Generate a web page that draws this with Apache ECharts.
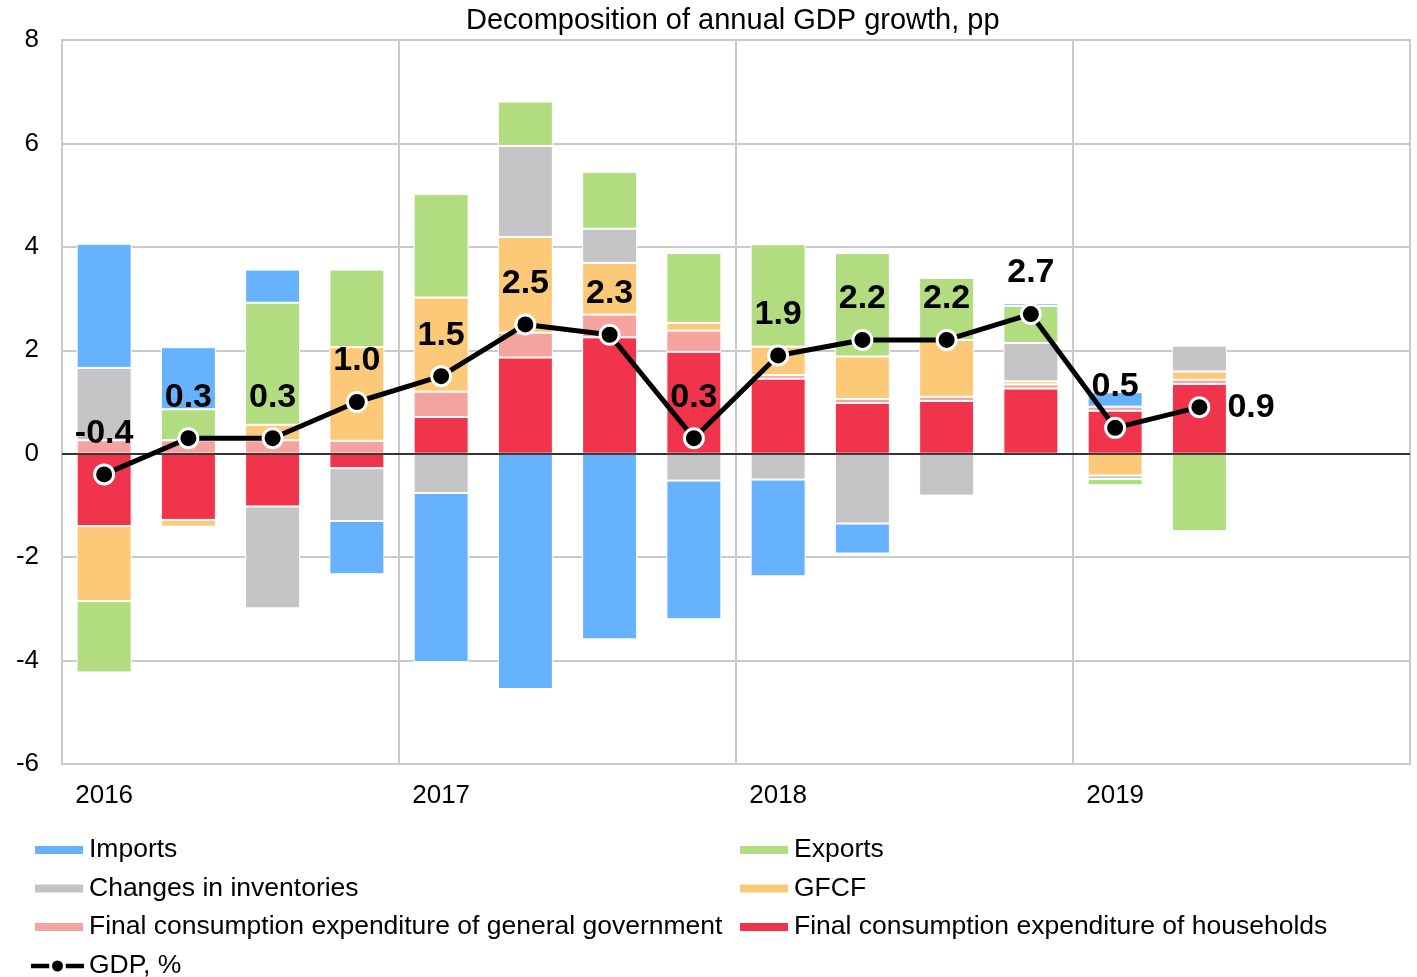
<!DOCTYPE html>
<html>
<head>
<meta charset="utf-8">
<title>Decomposition of annual GDP growth</title>
<script src="https://cdn.jsdelivr.net/npm/echarts@6.0.0/dist/echarts.min.js"></script>
<style>
    html, body { margin: 0; padding: 0; background: #fff; }
    #chart { width: 1417px; height: 977px; }
</style>
</head>
<body>
<div id="chart"></div>
<script>
// quarters on the x axis (only the first quarter of each year gets a label)
const quarters = ['2016 Q1', '2016 Q2', '2016 Q3', '2016 Q4',
                  '2017 Q1', '2017 Q2', '2017 Q3', '2017 Q4',
                  '2018 Q1', '2018 Q2', '2018 Q3', '2018 Q4',
                  '2019 Q1', '2019 Q2', '2019 Q3', '2019 Q4'];
const yearLabels = ['2016', '', '', '', '2017', '', '', '', '2018', '', '', '', '2019', '', '', ''];

// contributions, pp
const households  = [-1.40, -1.28, -1.02, -0.28, 0.71, 1.86, 2.25, 1.97, 1.45, 0.98, 1.02, 1.26, 0.83, 1.35];
const government  = [0.26, 0.26, 0.26, 0.25, 0.49, 0.48, 0.44, 0.41, 0.07, 0.08, 0.08, 0.08, 0.08, 0.08];
const gfcf        = [-1.45, -0.13, 0.30, 1.81, 1.82, 1.85, 1.00, 0.15, 0.55, 0.82, 1.10, 0.06, -0.42, 0.16];
const inventories = [1.40, 0, -1.97, -1.02, -0.76, 1.76, 0.66, -0.52, -0.50, -1.35, -0.81, 0.74, -0.07, 0.50];
const exportsData = [-1.38, 0.60, 2.36, 1.50, 2.00, 0.86, 1.10, 1.35, 1.98, 2.00, 1.20, 0.72, -0.12, -1.50];
const importsData = [2.40, 1.20, 0.64, -1.03, -3.27, -4.55, -3.59, -2.68, -1.87, -0.58, 0, 0.05, 0.28, 0];
const gdp         = [-0.4, 0.3, 0.3, 1.0, 1.5, 2.5, 2.3, 0.3, 1.9, 2.2, 2.2, 2.7, 0.5, 0.9];

const FONT = "'Liberation Sans', Arial, sans-serif";
const GRID_COLOR = '#cacaca';

// legend icon for the GDP line: thick dash, dot, thick dash
const GDP_ICON = 'path://M0,3.5H20V8.5H0Z M23,6A6,6 0 1,0 35,6A6,6 0 1,0 23,6Z M38,3.5H58V8.5H38Z';

// stacked bar series, order = stacking order from zero outwards
function barSeries(name, data, color) {
    return {
        name: name,
        type: 'bar',
        stack: 'total',
        barWidth: 55,
        data: data,
        itemStyle: { color: color, borderColor: '#fff', borderWidth: 1 },
        emphasis: { disabled: true }
    };
}

// one legend column
function legendColumn(left, top, items, extra) {
    return {
        orient: 'vertical',
        left: left, top: top,
        padding: 0,
        itemWidth: 50, itemHeight: 10, itemGap: 10.5,
        textStyle: { fontFamily: FONT, color: '#000', fontSize: 26.5, lineHeight: 28 },
        data: items,
        ...extra
    };
}

const chart = echarts.init(document.getElementById('chart'), null, { renderer: 'canvas' });

const textBase = { fontFamily: FONT, color: '#000' };

chart.setOption({
    animation: false,
    textStyle: { fontFamily: FONT },
    title: {
        text: 'Decomposition of annual GDP growth, pp',
        left: 466,
        top: 6,
        padding: 0,
        textStyle: { ...textBase, fontSize: 29, fontWeight: 'normal' }
    },
    grid: {
        left: 62, right: 7, top: 40, bottom: 213,
        show: true,
        borderColor: GRID_COLOR,
        borderWidth: 2
    },
    legend: [
        legendColumn(33, 836, [
            { name: 'Imports', icon: 'rect' },
            { name: 'Changes in inventories', icon: 'rect' },
            { name: 'Final consumption expenditure of general government', icon: 'rect' }
        ]),
        legendColumn(738, 836, [
            { name: 'Exports', icon: 'rect' },
            { name: 'GFCF', icon: 'rect' },
            { name: 'Final consumption expenditure of households', icon: 'rect' }
        ]),
        legendColumn(31, 952, [
            { name: 'GDP, %', icon: GDP_ICON, itemStyle: { color: '#000', borderWidth: 0 } }
        ], { itemWidth: 53, itemHeight: 11 })
    ],
    xAxis: {
        type: 'category',
        data: quarters,
        boundaryGap: true,
        axisLine: { onZero: false, lineStyle: { color: GRID_COLOR, width: 2 } },
        axisTick: { show: false },
        axisLabel: {
            ...textBase,
            fontSize: 26,
            margin: 19,
            interval: 0,
            formatter: (value, idx) => yearLabels[idx]
        },
        splitLine: {
            show: true,
            interval: (idx) => idx > 0 && idx % 4 === 0,
            lineStyle: { color: GRID_COLOR, width: 2 }
        }
    },
    yAxis: {
        type: 'value',
        min: -6, max: 8, interval: 2,
        axisLine: { show: false },
        axisTick: { show: false },
        axisLabel: { ...textBase, fontSize: 26, margin: 23 },
        splitLine: { lineStyle: { color: GRID_COLOR, width: 2 } }
    },
    series: [
        barSeries('Final consumption expenditure of households', households, '#ef344c'),
        barSeries('Final consumption expenditure of general government', government, '#f5a39e'),
        barSeries('GFCF', gfcf, '#fbc977'),
        barSeries('Changes in inventories', inventories, '#c4c4c6'),
        barSeries('Exports', exportsData, '#b1dd80'),
        barSeries('Imports', importsData, '#67b2fe'),
        {
            name: 'GDP, %',
            type: 'line',
            z: 5,
            data: gdp.map((v, i) => i === gdp.length - 1
                ? { value: v, label: { position: 'right', distance: 17 } }
                : v),
            symbol: 'circle',
            symbolSize: 19,
            lineStyle: { color: '#000', width: 5 },
            itemStyle: { color: '#000', borderColor: '#fff', borderWidth: 3 },
            label: {
                show: true,
                position: 'top',
                distance: 13,
                ...textBase,
                fontSize: 34,
                fontWeight: 'bold',
                formatter: (p) => p.value.toFixed(1)
            },
            emphasis: { disabled: true },
            // zero line drawn over the bars
            markLine: {
                silent: true,
                symbol: 'none',
                label: { show: false },
                lineStyle: { color: '#000', width: 1.5, type: 'solid' },
                data: [{ yAxis: 0 }]
            }
        }
    ]
});
</script>
</body>
</html>
